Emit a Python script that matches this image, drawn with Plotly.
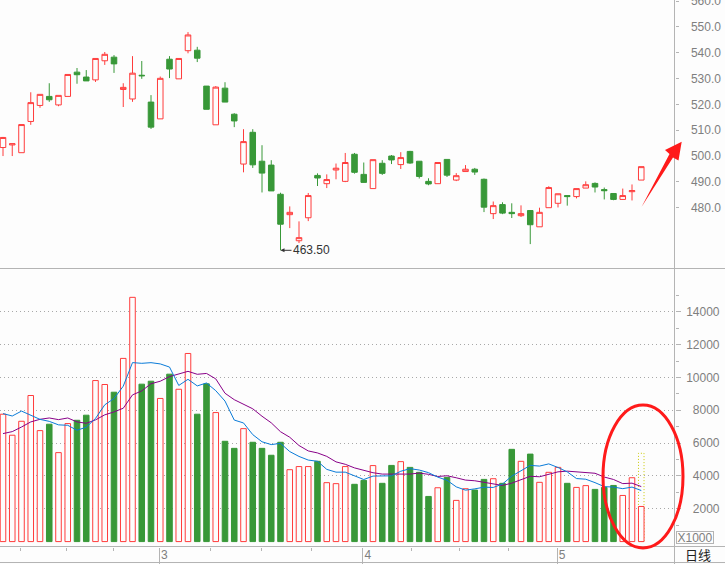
import plotly.graph_objects as go

W, H = 725, 564
BG = "#FDFDFD"
RED = "#FF3C3C"
GREEN = "#389838"
AXC = "#B4B4B4"
GRIDC = "#A8A8A8"
LBL = "#7F7F7F"
FONT = "Liberation Sans, Arial, sans-serif"

# ---------------- data ----------------
opens = [503.3, 504.3, 501.3, 513.4, 519.6, 523.1, 519.8, 523.1, 532.5, 530.6,
         529.5, 536.9, 538.3, 525.8, 522.1, 531.3, 520.9, 514.4, 537.5, 529.9,
         540.8, 541.0, 527.1, 512.1, 526.3, 516.2, 496.9, 509.2, 498.0, 496.5,
         485.2, 477.3, 467.2, 476.1, 492.5, 489.3, 494.6, 490.2, 500.7, 492.9,
         487.4, 497.2, 500.0, 496.7, 501.8, 498.0, 490.2, 489.3, 498.7, 490.7,
         494.0, 494.9, 491.0, 477.7, 481.2, 478.2, 476.9, 478.9, 472.6, 480.0,
         481.7, 484.7, 484.3, 487.6, 489.4, 487.0, 485.5, 483.2, 486.2, 490.7]
highs = [507.4, 504.8, 512.2, 524.7, 523.9, 528.2, 523.5, 531.6, 534.1, 533.3,
         537.8, 540.3, 539.1, 528.2, 538.7, 536.8, 523.6, 530.8, 538.7, 537.8,
         548.0, 542.3, 527.1, 527.1, 528.6, 516.6, 510.4, 510.4, 504.2, 498.4,
         485.8, 480.5, 474.7, 485.7, 493.3, 492.9, 497.1, 501.2, 501.2, 497.5,
         498.6, 498.4, 500.4, 501.5, 502.0, 498.0, 491.4, 497.5, 498.7, 493.4,
         496.5, 495.4, 491.3, 482.4, 482.1, 481.7, 480.9, 478.9, 480.0, 488.3,
         485.4, 484.7, 487.4, 490.2, 489.8, 487.8, 485.5, 487.4, 489.0, 495.9]
lows = [500.0, 500.0, 501.3, 512.1, 518.7, 521.0, 519.3, 523.1, 528.0, 529.1,
        528.7, 535.3, 532.2, 519.0, 521.0, 529.9, 510.5, 514.4, 530.2, 529.9,
        539.8, 536.4, 518.1, 512.1, 520.9, 511.2, 493.7, 495.4, 485.9, 486.5,
        463.5, 472.1, 466.3, 474.8, 488.4, 487.6, 491.0, 489.9, 493.2, 489.8,
        487.4, 492.7, 496.9, 495.0, 497.0, 491.3, 488.7, 489.3, 491.9, 490.3,
        494.0, 492.7, 478.3, 475.6, 477.5, 476.0, 476.4, 465.9, 472.6, 480.0,
        480.1, 480.8, 483.6, 487.6, 485.9, 483.2, 482.9, 483.1, 482.8, 490.7]
closes = [507.2, 504.8, 512.2, 520.7, 523.9, 521.8, 523.5, 531.6, 531.5, 529.1,
          537.8, 539.4, 535.7, 526.6, 532.1, 531.1, 511.2, 530.1, 533.7, 537.8,
          546.9, 537.9, 518.1, 526.7, 520.9, 513.6, 505.6, 496.6, 493.4, 486.5,
          473.6, 478.2, 468.4, 484.7, 491.5, 490.9, 495.3, 497.5, 493.7, 489.8,
          498.6, 493.3, 498.5, 499.4, 497.3, 492.1, 489.2, 497.5, 492.6, 492.4,
          494.9, 493.8, 480.2, 480.8, 477.9, 477.7, 477.7, 473.4, 478.2, 487.8,
          485.4, 484.3, 487.4, 488.9, 488.0, 486.6, 483.2, 484.7, 486.6, 495.9]
volumes = [7760, 6480, 7330, 8900, 6760, 7150, 5420, 7190, 7390, 7700,
           9810, 9570, 9100, 11160, 14880, 9590, 9770, 8720, 10200, 9280,
           11460, 7760, 9610, 7860, 6110, 5680, 6880, 6050, 5680, 5260,
           6050, 4380, 4570, 4570, 4890, 3590, 3530, 4570, 3490, 3730,
           4630, 3550, 4640, 4870, 4520, 4220, 2750, 3280, 3910, 2510,
           3220, 3140, 3790, 3830, 3550, 5620, 4890, 5330, 3610, 4220,
           4520, 3550, 3300, 3410, 3180, 3300, 3420, 2810, 3890, 2140]
vol_ma5 = [7800, 7650, 7950, 7700, 7446, 7324, 7112, 7084, 6782, 6970,
           7502, 8332, 8714, 9468, 10904, 10860, 10900, 10824, 10632, 9512,
           9886, 9484, 9662, 9194, 8560, 7404, 7228, 6516, 6080, 5910,
           5984, 5484, 5188, 4966, 4892, 4400, 4230, 4230, 4014, 3782,
           3990, 3994, 4008, 4284, 4442, 4360, 4200, 3928, 3736, 3334,
           3134, 3212, 3314, 3298, 3506, 3986, 4336, 4644, 4600, 4734,
           4514, 4246, 3840, 3800, 3592, 3348, 3322, 3224, 3320, 3112]
vol_ma10 = [6580, 6700, 6980, 7290, 7450, 7530, 7430, 7530, 7290, 7208,
            7413, 7722, 7899, 8125, 8937, 9181, 9616, 9769, 10050, 10208,
            10373, 10192, 10243, 9913, 9036, 8645, 8356, 8089, 7637, 7235,
            6694, 6356, 5852, 5523, 5401, 5192, 4857, 4709, 4490, 4337,
            4195, 4112, 4119, 4149, 4112, 4175, 4097, 3968, 4010, 3888,
            3747, 3706, 3621, 3517, 3420, 3560, 3774, 3979, 3949, 4120,
            4250, 4291, 4242, 4200, 4163, 3931, 3784, 3532, 3560, 3352]
projected_volume = 5380
price_ticks = [480, 490, 500, 510, 520, 530, 540, 550, 560]
price_grid = [480, 500, 520, 540, 560]
volume_ticks = [2000, 4000, 6000, 8000, 10000, 12000, 14000]
volume_minor = [1000, 3000, 5000, 7000, 9000, 11000, 13000, 15000]
month_start_bar = [17, 39, 60]
month_labels = ["3", "4", "5"]
sub_ticks_bar = [2, 7, 12, 22.5, 28, 33.5, 44.25, 49.5, 54.75]

idx = list(range(len(opens)))
up = [c >= o for o, c in zip(opens, closes)]

# ---------------- geometry ----------------
def px(x):
    return x / W

def py(y):
    return 1 - y / H

AXIS_X = 674.5
XR = [(0 - 3) / 9.25, (AXIS_X - 3) / 9.25]
PR = [456.45, 560.44]
VR = [-299, 16545]

fig = go.Figure()

fig.add_trace(go.Candlestick(
    x=idx, open=opens, high=highs, low=lows, close=closes,
    xaxis="x", yaxis="y",
    increasing=dict(line=dict(color=RED, width=1), fillcolor=BG),
    decreasing=dict(line=dict(color=GREEN, width=1), fillcolor=GREEN),
    whiskerwidth=0, showlegend=False, hoverinfo="skip"))

fig.add_trace(go.Bar(
    x=idx, y=volumes, xaxis="x2", yaxis="y2", width=0.6,
    marker=dict(color=[BG if u else GREEN for u in up],
                line=dict(color=[RED if u else GREEN for u in up], width=1)),
    showlegend=False, hoverinfo="skip"))

fig.add_trace(go.Scatter(x=idx, y=vol_ma10, xaxis="x2", yaxis="y2", mode="lines",
                         line=dict(color="#880088", width=1), showlegend=False, hoverinfo="skip"))
fig.add_trace(go.Scatter(x=idx, y=vol_ma5, xaxis="x2", yaxis="y2", mode="lines",
                         line=dict(color="#0A7BD8", width=1), showlegend=False, hoverinfo="skip"))
# invisible trace so that the volume label axis gets its own subplot
fig.add_trace(go.Scatter(x=[idx[0]], y=[volumes[0]], xaxis="x2", yaxis="y4", mode="markers",
                         marker=dict(opacity=0), showlegend=False, hoverinfo="skip"))

low_i = lows.index(min(lows))
last = idx[-1]

shapes = [
    dict(type="rect", xref="x2", yref="y2", x0=last - 0.3, x1=last + 0.3, y0=0, y1=projected_volume,
         line=dict(color="#C8C800", width=1, dash="1px,2px"), fillcolor="rgba(0,0,0,0)", layer="below"),
    dict(type="line", xref="paper", yref="paper", x0=px(AXIS_X), x1=px(AXIS_X), y0=0, y1=1,
         line=dict(color=AXC, width=1)),
    dict(type="line", xref="paper", yref="paper", x0=0, x1=1, y0=py(268.5), y1=py(268.5),
         line=dict(color=AXC, width=1)),
    dict(type="line", xref="paper", yref="paper", x0=0, x1=1, y0=py(546.5), y1=py(546.5),
         line=dict(color=AXC, width=1)),
    dict(type="line", xref="paper", yref="paper", x0=0, x1=1, y0=py(562.5), y1=py(562.5),
         line=dict(color=AXC, width=1)),
    dict(type="circle", xref="paper", yref="paper", x0=px(603), x1=px(683), y0=py(548), y1=py(405),
         line=dict(color="#FF1A1A", width=3), fillcolor="rgba(0,0,0,0)"),
]
arrow_pts = [(641.5, 207.0), (673.0, 157.5), (678.5, 160.5), (681.7, 141.7), (665.0, 150.0), (669.5, 154.0)]
path = "M " + " L ".join(f"{px(a):.5f},{py(b):.5f}" for a, b in arrow_pts) + " Z"
shapes.append(dict(type="path", xref="paper", yref="paper", path=path,
                   fillcolor="#FF1A1A", line=dict(width=0)))

annotations = [
    dict(x=low_i, y=lows[low_i], xref="x", yref="y", text=f"{lows[low_i]:.2f}",
         showarrow=True, ax=31, ay=0, arrowhead=2, arrowsize=0.8, arrowwidth=1,
         arrowcolor="#333333", font=dict(family=FONT, size=12, color="#333333")),
    dict(x=px(695), y=py(537), xref="paper", yref="paper", text="X1000", showarrow=False,
         xanchor="center", yanchor="middle",
         font=dict(family=FONT, size=12, color=LBL), bordercolor=AXC, borderwidth=1,
         borderpad=0, width=36, height=11),
    dict(x=px(698), y=py(554.5), xref="paper", yref="paper", text="日线", showarrow=False,
         xanchor="center", yanchor="middle",
         font=dict(family="Noto Sans CJK SC", size=13, color="#222222")),
]

fig.update_layout(
    width=W, height=H, margin=dict(l=0, r=0, t=0, b=0, autoexpand=False),
    paper_bgcolor=BG, plot_bgcolor=BG,
    boxgap=0.25, boxgroupgap=0.2,
    showlegend=False, shapes=shapes, annotations=annotations,
    xaxis=dict(domain=[0, px(AXIS_X)], range=XR, anchor="y", showticklabels=False,
               showgrid=False, zeroline=False, showline=False, ticks="", automargin=False,
               rangeslider=dict(visible=False)),
    yaxis=dict(domain=[py(268.5), 1], range=PR, anchor="x", side="right", automargin=False,
               tickvals=price_ticks, ticktext=[f"{v:.1f}" for v in price_ticks],
               ticks="outside", ticklen=3, tickcolor=AXC, showgrid=False, zeroline=False,
               showline=False, ticklabelstandoff=10, ticklabeloverflow="allow",
               tickfont=dict(family=FONT, size=12, color=LBL)),
    yaxis3=dict(overlaying="y", anchor="x", side="right", range=PR, tickvals=price_grid,
                automargin=False,
                ticks="outside", ticklen=6, tickcolor=AXC, showticklabels=False,
                showgrid=True, gridcolor=GRIDC, griddash="1px,3px", zeroline=False, showline=False),
    xaxis2=dict(domain=[0, px(AXIS_X)], range=XR, anchor="y2", showgrid=False, zeroline=False,
                automargin=False,
                showline=False, tickvals=[m - 0.1 for m in month_start_bar], ticktext=month_labels,
                ticks="outside", ticklen=16, tickcolor=AXC,
                ticklabelshift=5, ticklabelstandoff=-19, ticklabeloverflow="allow",
                tickfont=dict(family=FONT, size=12, color=LBL),
                minor=dict(tickvals=[s - 0.1 for s in sub_ticks_bar], ticks="outside",
                           ticklen=3, tickcolor=AXC, showgrid=False)),
    yaxis2=dict(domain=[py(546.5), py(270)], range=VR, anchor="x2", side="right",
                automargin=False,
                tickvals=volume_ticks, showticklabels=False, ticks="outside", ticklen=5,
                tickcolor=AXC, showgrid=True, gridcolor=GRIDC, griddash="1px,3px",
                zeroline=False, showline=False,
                minor=dict(tickvals=volume_minor, ticks="outside", ticklen=3, tickcolor=AXC,
                           showgrid=False)),
    yaxis4=dict(overlaying="y2", anchor="free", position=px(719.5), side="left", range=VR,
                automargin=False,
                tickvals=volume_ticks, ticktext=[str(v) for v in volume_ticks],
                ticklabeloverflow="allow", ticks="", showgrid=False, zeroline=False,
                showline=False, tickfont=dict(family=FONT, size=12, color=LBL)),
)

fig.write_html("out.html")
